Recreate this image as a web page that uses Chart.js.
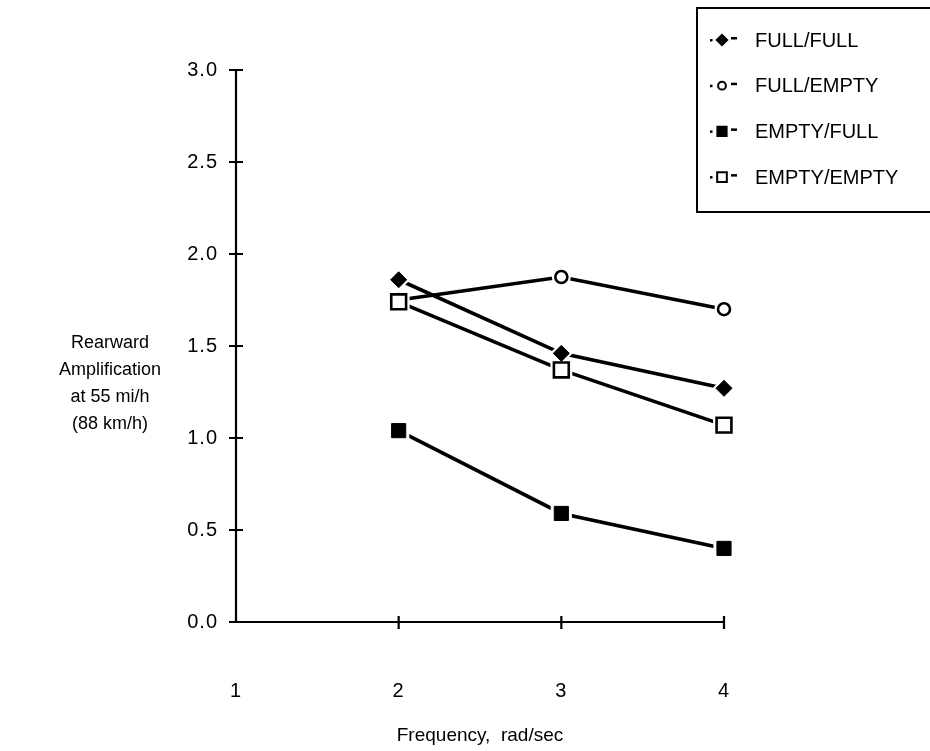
<!DOCTYPE html>
<html>
<head>
<meta charset="utf-8">
<script src="https://cdn.jsdelivr.net/npm/chart.js@4.4.1/dist/chart.umd.min.js"></script>
<style>
  html, body { margin: 0; padding: 0; background: #fff; }
  #wrap { width: 930px; height: 751px; position: relative; }
</style>
</head>
<body>
<div id="wrap"><canvas id="c" width="930" height="751"></canvas></div>
<script>
// Frequency (rad/sec) at which rearward amplification was measured
const frequency = [2, 3, 4];
// Rearward amplification per loading condition (lead / trailer)
const fullFull   = [1.86, 1.46, 1.27];
const fullEmpty  = [1.75, 1.875, 1.70];
const emptyFull  = [1.04, 0.59, 0.40];
const emptyEmpty = [1.74, 1.37, 1.07];
const seriesNames = ['FULL/FULL', 'FULL/EMPTY', 'EMPTY/FULL', 'EMPTY/EMPTY'];
const xTickValues = [1, 2, 3, 4];
const yTickValues = [0, 0.5, 1.0, 1.5, 2.0, 2.5, 3.0];
const yTitleLines = ['Rearward', 'Amplification', 'at 55 mi/h', '(88 km/h)'];
const xTitle = 'Frequency,  rad/sec';

const FONT = 'Arial, "Liberation Sans", Helvetica, sans-serif';

const toPoints = vals => vals.map((v, i) => ({ x: frequency[i], y: v }));

// marker styles per series: [pointStyle, radius, filled]
const markers = [
  ['rectRot', 8, true],
  ['circle', 6, false],
  ['rect', 10, true],
  ['rect', 10.5, false]
];
const seriesValues = [fullFull, fullEmpty, emptyFull, emptyEmpty];

// Chart.js paints higher "order" values first, so lines sit at the back,
// white halos above them and the markers on top.
const datasets = [];
seriesValues.forEach((vals, i) => {
  datasets.push({
    label: seriesNames[i], data: toPoints(vals), order: 20, clip: false,
    borderColor: '#000', borderWidth: 3.6, pointRadius: 0, showLine: true,
    tension: 0, fill: false
  });
});
seriesValues.forEach((vals, i) => {
  const [style, r] = markers[i];
  datasets.push({
    label: seriesNames[i] + ' halo', data: toPoints(vals), order: 10, clip: false, showLine: false,
    pointStyle: style, pointRadius: r + (style === 'rect' ? 5 : 3.5),
    pointBackgroundColor: '#fff', pointBorderWidth: 0, pointBorderColor: '#fff'
  });
});
seriesValues.forEach((vals, i) => {
  const [style, r, filled] = markers[i];
  datasets.push({
    // open square painted last so it covers the coincident circle at 2 rad/sec
    label: seriesNames[i] + ' marker', data: toPoints(vals), order: 4 - i, clip: false, showLine: false,
    pointStyle: style, pointRadius: r,
    pointBackgroundColor: filled ? '#000' : '#fff',
    pointBorderColor: '#000', pointBorderWidth: filled ? 1 : 2.6
  });
});

const spacing = {
  id: 'spacing',
  beforeDraw(chart) { chart.ctx.letterSpacing = '1px'; },
  afterDatasetsDraw(chart) { chart.ctx.letterSpacing = '0px'; }
};

const axesAndText = {
  id: 'axesAndText',
  afterDraw(chart) {
    const ctx = chart.ctx;
    const xs = chart.scales.x, ys = chart.scales.y;
    const x0 = xs.getPixelForValue(1), x1 = xs.getPixelForValue(4);
    const y0 = ys.getPixelForValue(0), y1 = ys.getPixelForValue(3);
    ctx.save();
    ctx.letterSpacing = '0px';
    ctx.strokeStyle = '#000';
    ctx.lineWidth = 2.2;
    ctx.lineCap = 'butt';
    ctx.beginPath();
    ctx.moveTo(x0, y1); ctx.lineTo(x0, y0 + 1);
    ctx.moveTo(x0 - 1, y0); ctx.lineTo(x1, y0);
    ctx.stroke();
    // crossing tick marks
    ctx.beginPath();
    yTickValues.forEach(v => {
      const y = ys.getPixelForValue(v);
      ctx.moveTo(x0 - 7, y); ctx.lineTo(x0 + 7, y);
    });
    xTickValues.slice(1).forEach(v => {
      const x = xs.getPixelForValue(v);
      ctx.moveTo(x, y0 - 6); ctx.lineTo(x, y0 + 7);
    });
    ctx.stroke();

    // axis titles
    ctx.fillStyle = '#000';
    ctx.textAlign = 'center';
    ctx.textBaseline = 'middle';
    ctx.font = '18px ' + FONT;
    yTitleLines.forEach((t, i) => ctx.fillText(t, 110, 343 + i * 27));
    ctx.font = '19px ' + FONT;
    ctx.fillText(xTitle, (x0 + x1) / 2, 736);

    // legend box (right side runs off the page)
    ctx.lineWidth = 2;
    ctx.beginPath();
    ctx.moveTo(940, 8); ctx.lineTo(697, 8); ctx.lineTo(697, 212); ctx.lineTo(940, 212);
    ctx.stroke();
    ctx.font = '20px ' + FONT;
    ctx.textAlign = 'left';
    seriesNames.forEach((name, i) => {
      const cy = 40 + i * 45.7;
      const [style, r, filled] = markers[i];
      ctx.fillStyle = '#000';
      ctx.fillRect(710, cy - 1, 2.5, 2.5);
      ctx.fillRect(731, cy - 3, 6, 2.5);
      ctx.fillStyle = filled ? '#000' : '#fff';
      ctx.strokeStyle = '#000';
      ctx.lineWidth = 2;
      Chart.helpers.drawPoint(ctx, {
        pointStyle: style, radius: r * 0.65, rotation: 0,
        borderWidth: filled ? 1 : 2
      }, 722, cy);
      ctx.fillStyle = '#000';
      ctx.fillText(name, 755, cy + 1);
    });
    ctx.restore();
  }
};

const chart = new Chart(document.getElementById('c'), {
  type: 'line',
  data: { datasets },
  options: {
    responsive: false,
    animation: false,
    events: [],
    layout: { padding: { top: 70, right: 206, left: 0, bottom: 0 } },
    plugins: { legend: { display: false }, tooltip: { enabled: false }, title: { display: false } },
    scales: {
      x: {
        type: 'linear', min: 1, max: 4,
        afterBuildTicks: s => { s.ticks = xTickValues.map(v => ({ value: v })); },
        afterFit: s => { s.height = 129; },
        grid: { display: false, drawTicks: false },
        border: { display: false },
        ticks: { color: '#000', font: { family: FONT, size: 20 }, padding: 57,
                 callback: v => String(v) }
      },
      y: {
        type: 'linear', min: 0, max: 3,
        afterBuildTicks: s => { s.ticks = yTickValues.map(v => ({ value: v })); },
        afterFit: s => { s.width = 236; },
        grid: { display: false, drawTicks: false },
        border: { display: false },
        ticks: { color: '#000', font: { family: FONT, size: 20 }, padding: 18,
                 callback: v => Number(v).toFixed(1) }
      }
    }
  },
  plugins: [spacing, axesAndText]
});
</script>
</body>
</html>
